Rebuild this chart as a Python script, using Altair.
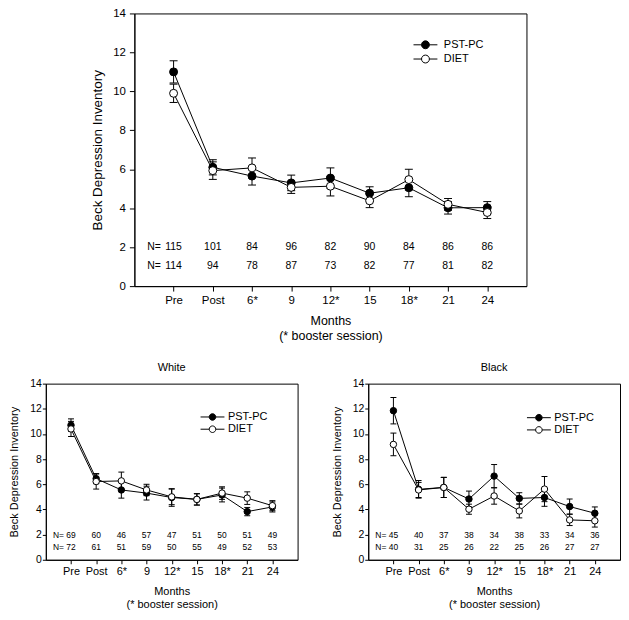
import altair as alt
import pandas as pd

months = ["Pre", "Post", "6*", "9", "12*", "15", "18*", "21", "24"]

# Top panel: all participants
all_pst_mean = [11.0, 6.1, 5.65, 5.3, 5.55, 4.77, 5.05, 4.02, 4.03]
all_pst_se = [0.57, 0.39, 0.46, 0.4, 0.52, 0.33, 0.46, 0.32, 0.31]
all_diet_mean = [9.9, 5.93, 6.07, 5.07, 5.13, 4.38, 5.47, 4.2, 3.78]
all_diet_se = [0.47, 0.45, 0.51, 0.31, 0.5, 0.35, 0.53, 0.3, 0.31]
all_n_pst = [115, 101, 84, 96, 82, 90, 84, 86, 86]
all_n_diet = [114, 94, 78, 87, 73, 82, 77, 81, 82]

# White
white_pst_mean = [10.7, 6.45, 5.55, 5.3, 4.95, 4.8, 5.15, 3.83, 4.2]
white_pst_se = [0.5, 0.4, 0.65, 0.55, 0.7, 0.45, 0.55, 0.33, 0.4]
white_diet_mean = [10.4, 6.22, 6.27, 5.55, 5.0, 4.8, 5.3, 4.9, 4.3]
white_diet_se = [0.6, 0.6, 0.7, 0.45, 0.62, 0.45, 0.5, 0.5, 0.4]
white_n_pst = [69, 60, 46, 57, 47, 51, 50, 51, 49]
white_n_diet = [72, 61, 51, 59, 50, 55, 49, 52, 53]

# Black
black_pst_mean = [11.85, 5.6, 5.75, 4.83, 6.65, 4.88, 4.95, 4.23, 3.7]
black_pst_se = [1.05, 0.7, 0.8, 0.63, 0.92, 0.45, 0.7, 0.6, 0.5]
black_diet_mean = [9.17, 5.55, 5.75, 4.02, 5.07, 3.88, 5.62, 3.17, 3.1]
black_diet_se = [0.9, 0.6, 0.8, 0.4, 0.65, 0.55, 1.0, 0.45, 0.5]
black_n_pst = [45, 40, 37, 38, 34, 38, 33, 34, 36]
black_n_diet = [40, 31, 25, 26, 22, 25, 26, 27, 27]

FONT = "Liberation Sans"
label_expr = "[" + ",".join("'" + m + "'" for m in months) + "][datum.value]"


def legend_path(r):
    return ("M-2,0H-{r}M{r},0H2M{r},0A{r},{r} 0 1 1 -{r},0A{r},{r} 0 1 1 {r},0Z"
            .format(r=r))


def panel(pst, pst_se, diet, diet_se, n_pst, n_diet, s, title=None):
    rows = []
    for name, means, ses in (("PST-PC", pst, pst_se), ("DIET", diet, diet_se)):
        for i, (m, e) in enumerate(zip(means, ses)):
            rows.append({"idx": i, "series": name, "mean": m, "se": e})
    df = pd.DataFrame(rows)
    npst = pd.DataFrame({"idx": list(range(len(months))), "n": n_pst})
    ndiet = pd.DataFrame({"idx": list(range(len(months))), "n": n_diet})
    one = pd.DataFrame({"a": [0]})

    xscale = alt.Scale(domain=[-1, 9], nice=False, zero=False)
    yscale = alt.Scale(domain=[0, 14], nice=False, zero=True)
    xaxis = alt.Axis(values=list(range(9)), labelExpr=label_expr,
                     title=["Months", "(* booster session)"], grid=False,
                     tickSize=s["xtick"], labelPadding=s["xlabpad"],
                     labelFontSize=s["xlab_fs"], titleFontSize=s["xtitle_fs"],
                     titleFontWeight="normal", titlePadding=s["xtitlepad"],
                     titleLineHeight=s["xtitle_lh"], labelFlush=False,
                     labelOverlap=False)
    yaxis = alt.Axis(values=list(range(0, 15, 2)), title="Beck Depression Inventory",
                     grid=False, tickSize=s["ytick"], labelPadding=s["ylabpad"],
                     labelFontSize=s["ylab_fs"], titleFontSize=s["ytitle_fs"],
                     titleFontWeight="normal", titlePadding=s["ytitlepad"])

    def X(f):
        return alt.X(f, scale=xscale, axis=xaxis)

    def Y(f):
        return alt.Y(f, scale=yscale, axis=yaxis)

    base = alt.Chart(df).transform_calculate(
        lo="datum.mean - datum.se", hi="datum.mean + datum.se")

    rules = base.mark_rule(color="black", strokeWidth=1).encode(
        x=X("idx:Q"), y=Y("lo:Q"), y2="hi:Q", detail="series:N")
    cap_lo = base.mark_tick(orient="horizontal", color="black", size=s["cap"],
                            thickness=1, opacity=1).encode(x=X("idx:Q"), y=Y("lo:Q"))
    cap_hi = base.mark_tick(orient="horizontal", color="black", size=s["cap"],
                            thickness=1, opacity=1).encode(x=X("idx:Q"), y=Y("hi:Q"))
    lines = base.mark_line(color="black", strokeWidth=1).encode(
        x=X("idx:Q"), y=Y("mean:Q"), detail="series:N")
    points = base.mark_point(shape="circle", filled=True, stroke="black",
                             strokeWidth=1, size=s["pt"], opacity=1).encode(
        x=X("idx:Q"), y=Y("mean:Q"),
        fill=alt.Fill("series:N",
                      scale=alt.Scale(domain=["PST-PC", "DIET"], range=["black", "white"]),
                      legend=alt.Legend(title=None, orient="none",
                                        legendX=s["legx"], legendY=s["legy"],
                                        symbolType=legend_path(s["legr"]),
                                        symbolSize=144, symbolStrokeColor="black",
                                        symbolStrokeWidth=1, symbolOpacity=1,
                                        labelFontSize=s["leg_fs"], labelFont=FONT,
                                        labelColor="black", labelOffset=s["legoff"],
                                        rowPadding=s["legrow"], padding=0)))
    ytop = alt.YDatum(2.0, type="quantitative", scale=yscale, axis=yaxis)
    ybot = alt.YDatum(1.05, type="quantitative", scale=yscale, axis=yaxis)
    t1 = alt.Chart(npst).mark_text(font=FONT, fontSize=s["n_fs"], color="black",
                                   baseline="middle", align="center").encode(
        x=X("idx:Q"), y=ytop, text="n:Q")
    t2 = alt.Chart(ndiet).mark_text(font=FONT, fontSize=s["n_fs"], color="black",
                                    baseline="middle", align="center").encode(
        x=X("idx:Q"), y=ybot, text="n:Q")
    nlab1 = alt.Chart(one).mark_text(text="N=", font=FONT, fontSize=s["n_fs"],
                                     color="black", baseline="middle", align="center").encode(
        x=alt.XDatum(-0.5, type="quantitative", scale=xscale, axis=xaxis), y=ytop)
    nlab2 = alt.Chart(one).mark_text(text="N=", font=FONT, fontSize=s["n_fs"],
                                     color="black", baseline="middle", align="center").encode(
        x=alt.XDatum(-0.5, type="quantitative", scale=xscale, axis=xaxis), y=ybot)

    ch = alt.layer(rules, cap_lo, cap_hi, lines, points, t1, t2, nlab1, nlab2).properties(
        width=s["w"], height=s["h"])
    if title:
        ch = ch.properties(title=alt.TitleParams(title, fontSize=11, fontWeight="normal",
                                                 anchor="middle", frame="group",
                                                 offset=s["titleoff"], font=FONT,
                                                 color="black"))
    return ch


top_style = dict(w=394, h=274, xtick=5, xlabpad=3, xlab_fs=11.5, xtitle_fs=12.5,
                 xtitlepad=9, xtitle_lh=15, ytick=5, ylabpad=4, ylab_fs=11.5,
                 ytitle_fs=13.5, ytitlepad=8, cap=8, pt=64, n_fs=10.5,
                 legx=286, legy=25, legr=0.66, leg_fs=11, legoff=12, legrow=1.3)
bot_style = dict(w=253, h=177, xtick=4, xlabpad=2, xlab_fs=11, xtitle_fs=11,
                 xtitlepad=9, xtitle_lh=13, ytick=3.5, ylabpad=1, ylab_fs=10.5,
                 ytitle_fs=11, ytitlepad=10, cap=6, pt=42, n_fs=8.5,
                 legx=161, legy=27, legr=0.55, leg_fs=11, legoff=9, legrow=0.3,
                 titleoff=6)
bot_style_r = dict(bot_style, legx=165, legy=27.7)

top = panel(all_pst_mean, all_pst_se, all_diet_mean, all_diet_se,
            all_n_pst, all_n_diet, top_style)
white = panel(white_pst_mean, white_pst_se, white_diet_mean, white_diet_se,
              white_n_pst, white_n_diet, bot_style, title="White")
black = panel(black_pst_mean, black_pst_se, black_diet_mean, black_diet_se,
              black_n_pst, black_n_diet, bot_style_r, title="Black")

spacer = alt.Chart(pd.DataFrame({"a": [0]})).mark_point(opacity=0).encode(
    x=alt.X("a:Q", axis=None), y=alt.Y("a:Q", axis=None)).properties(
    width=44, height=10, view=alt.ViewBackground(strokeOpacity=0))

top_row = alt.hconcat(spacer, top, spacing=0).resolve_scale(
    x="independent", y="independent", fill="independent").resolve_legend(fill="independent")
bottom_row = alt.hconcat(white, black, spacing=32).resolve_scale(
    x="independent", y="independent", fill="independent").resolve_legend(fill="independent")

chart = alt.vconcat(top_row, bottom_row, spacing=18).resolve_scale(
    x="independent", y="independent", fill="independent").resolve_legend(
    fill="independent").properties(
    padding={"left": 0, "top": -3, "right": 0, "bottom": 0}).configure_view(
    stroke="black", strokeWidth=1).configure_axis(
    domainColor="black", tickColor="black", labelColor="black", titleColor="black",
    labelFont=FONT, titleFont=FONT, grid=False, domainWidth=1, tickWidth=1)

chart.save("out.html", embed_options={"renderer": "svg", "actions": False})
